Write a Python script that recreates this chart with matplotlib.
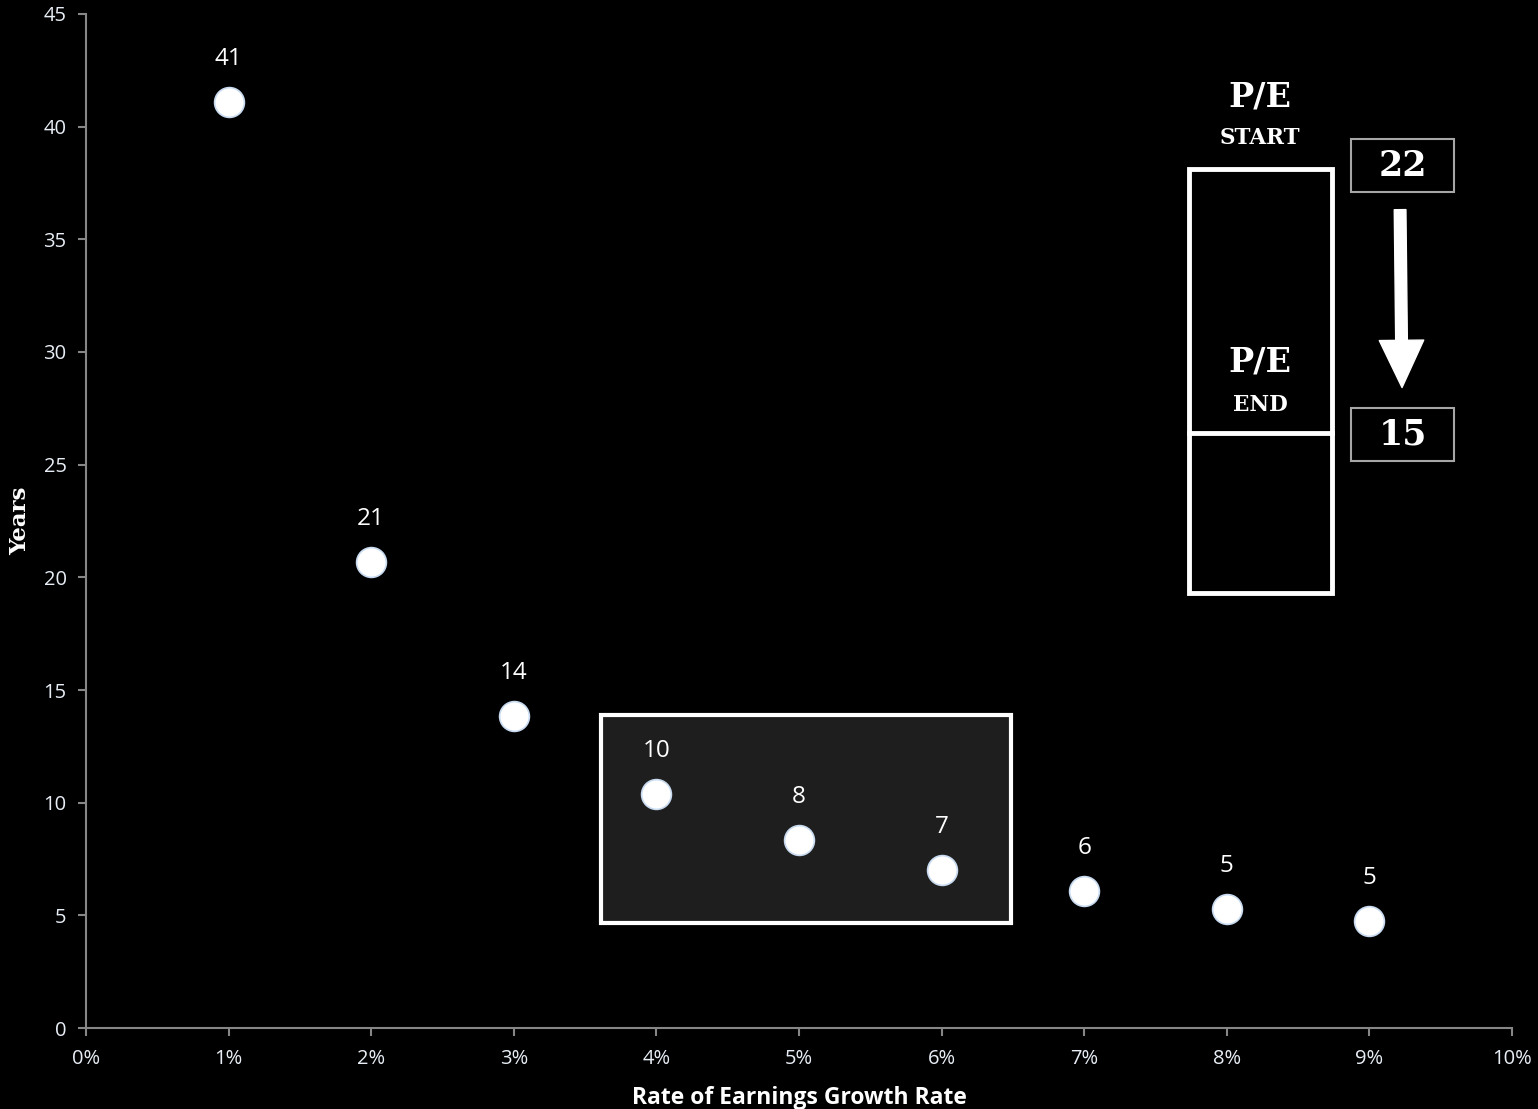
import matplotlib.pyplot as plt
from matplotlib.patches import Rectangle, FancyArrowPatch

# data
growth = [1, 2, 3, 4, 5, 6, 7, 8, 9]            # % earnings growth
years = [41.1, 20.7, 13.85, 10.4, 8.35, 7.0, 6.1, 5.3, 4.75]
labels = ['41', '21', '14', '10', '8', '7', '6', '5', '5']
xticks = list(range(0, 11))
yticks = list(range(0, 50, 5))
pe_start = '22'
pe_end = '15'

fig = plt.figure(figsize=(15.38, 11.09), dpi=100, facecolor='black')
ax = fig.add_axes([0.0559, 0.0730, 0.9272, 0.9144])
ax.set_facecolor('black')

ax.set_xlim(0, 10)
ax.set_ylim(0, 45)

# highlighted region behind the 4-6% points
ax.add_patch(Rectangle((3.61, 4.66), 2.88, 9.23, facecolor='#1e1e1e',
                       edgecolor='white', linewidth=3, zorder=1))

ax.scatter(growth, years, s=460, color='white', edgecolors='#c8daf0',
           linewidths=1.2, zorder=3)
for x, y, t in zip(growth, years, labels):
    ax.annotate(t, (x, y), xytext=(0, 31), textcoords='offset points',
                ha='center', va='center', color='white', fontsize=17.5,
                family='Open Sans', zorder=4)

# P/E diagram
ax.add_patch(Rectangle((7.735, 19.32), 1.003, 18.8, facecolor='none',
                       edgecolor='white', linewidth=3.5, zorder=2))
ax.plot([7.735, 8.738], [26.41, 26.41], color='white', linewidth=3.5, zorder=2)
serif = dict(family='DejaVu Serif', fontweight='bold', color='white',
             ha='center', va='center')
ax.text(8.233, 41.3, 'P/E', fontsize=24, **serif)
ax.text(8.233, 39.5, 'START', fontsize=15.5, **serif)
ax.text(8.233, 29.55, 'P/E', fontsize=24, **serif)
ax.text(8.233, 27.65, 'END', fontsize=15.5, **serif)

for y0, t in [(37.10, pe_start), (25.16, pe_end)]:
    ax.add_patch(Rectangle((8.871, y0), 0.722, 2.35, facecolor='black',
                           edgecolor='#a6a6a6', linewidth=1.5, zorder=2))
    ax.text(9.232, y0 + 1.17, t, fontsize=25, **serif)

ax.add_patch(FancyArrowPatch((9.215, 36.44), (9.229, 28.3),
                             arrowstyle='simple,head_length=1.7,head_width=1.6,tail_width=0.42',
                             mutation_scale=20, color='white', zorder=2))

# axes styling
for side in ['top', 'right']:
    ax.spines[side].set_visible(False)
for side in ['left', 'bottom']:
    ax.spines[side].set_color('#868686')
    ax.spines[side].set_linewidth(1.5)

ax.set_xticks(xticks)
ax.set_xticklabels([f'{v}%' for v in xticks])
ax.set_yticks(yticks)
ax.tick_params(colors='#868686', length=6, width=1.5, labelsize=14.5,
               labelcolor='#e8eef6')
ax.tick_params(axis='x', pad=9)
ax.tick_params(axis='y', pad=8)
for lab in ax.get_xticklabels() + ax.get_yticklabels():
    lab.set_family('Open Sans')

ax.set_xlabel('Rate of Earnings Growth Rate', color='white', fontsize=16.5,
              fontweight='bold', family='Open Sans', labelpad=12)
ax.set_ylabel('Years', color='white', fontsize=16.5, fontweight='bold',
              family='DejaVu Serif', labelpad=9)

fig.savefig('out.png', dpi=100, facecolor='black')
